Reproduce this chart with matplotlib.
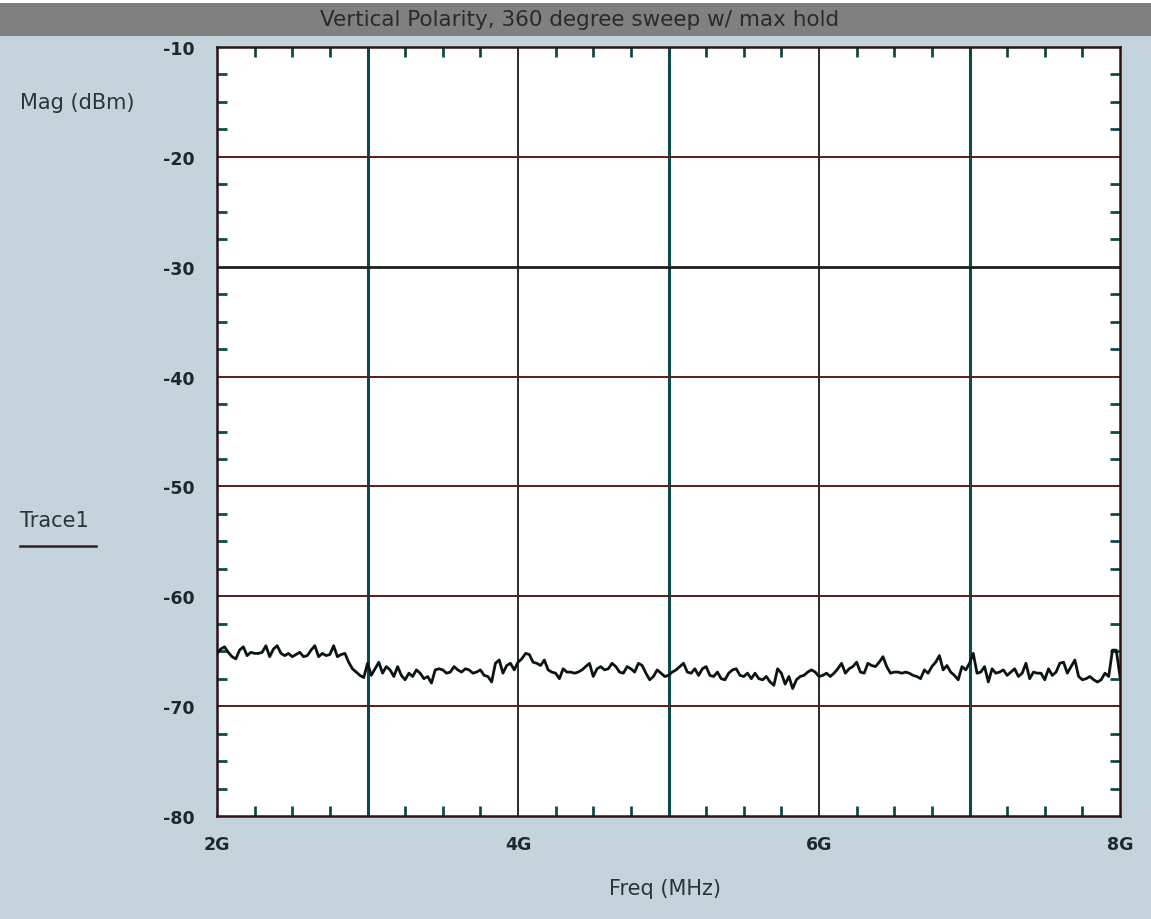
import numpy as np
import matplotlib
matplotlib.use('Agg')
import matplotlib.pyplot as plt
from matplotlib.ticker import MultipleLocator

title = "Vertical Polarity, 360 degree sweep w/ max hold"
y_label = "Mag (dBm)"
x_label = "Freq (MHz)"
trace_name = "Trace1"

freq_start = 2.0
freq_stop = 8.0
y_ticks = [-10, -20, -30, -40, -50, -60, -70, -80]
x_ticks = [2, 4, 6, 8]
x_tick_labels = ["2G", "4G", "6G", "8G"]

# trace, one value every 25 MHz
mag_2000_3475 = [-65.2, -64.8, -64.6, -65.1, -65.5, -65.7, -64.9, -64.6, -65.4, -65.1,
                 -65.2, -65.2, -65.1, -64.5, -65.5, -64.8, -64.5, -65.2, -65.4, -65.2,
                 -65.5, -65.3, -65.1, -65.5, -65.4, -64.9, -64.5, -65.5, -65.2, -65.4,
                 -65.3, -64.5, -65.5, -65.3, -65.2, -66.0, -66.6, -66.9, -67.2, -67.4,
                 -66.1, -67.2, -66.6, -66.0, -67.0, -66.4, -66.7, -67.3, -66.4, -67.2,
                 -67.6, -67.0, -67.3, -66.7, -67.0, -67.5, -67.3, -67.9, -66.7, -66.6]
mag_3500_5000 = [-66.7, -67.0, -66.9, -66.4, -66.7, -66.9, -66.6, -66.7, -67.0, -66.9,
                 -66.7, -67.2, -67.3, -67.8, -66.1, -65.8, -67.0, -66.3, -66.1, -66.7,
                 -66.0, -65.7, -65.2, -65.3, -66.0, -66.1, -66.3, -65.8, -66.7, -66.9,
                 -67.0, -67.5, -66.6, -66.9, -66.9, -67.0, -66.9, -66.7, -66.4, -66.1,
                 -67.3, -66.6, -66.4, -66.7, -66.6, -66.1, -66.4, -66.9, -67.0, -66.4,
                 -66.6, -66.9, -66.1, -66.3, -67.0, -67.6, -67.3, -66.7, -67.0, -67.3,
                 -67.2]
mag_5025_6500 = [-66.9, -66.7, -66.4, -66.1, -66.9, -67.0, -66.6, -67.2, -66.6, -66.4,
                 -67.2, -67.3, -66.9, -67.5, -67.6, -67.0, -66.7, -66.6, -67.2, -67.3,
                 -67.0, -67.5, -67.0, -67.5, -67.6, -67.3, -67.8, -68.1, -66.6, -67.0,
                 -68.0, -67.3, -68.4, -67.6, -67.3, -67.2, -66.9, -66.7, -66.9, -67.3,
                 -67.2, -67.0, -67.3, -67.0, -66.6, -66.1, -67.0, -66.6, -66.4, -66.0,
                 -66.9, -67.0, -66.1, -66.3, -66.4, -66.0, -65.5, -66.4, -67.0, -66.9]
mag_6525_8000 = [-66.9, -67.0, -66.9, -67.0, -67.2, -67.3, -67.5, -66.7, -67.0, -66.4,
                 -66.0, -65.4, -66.7, -66.3, -66.9, -67.2, -67.6, -66.4, -66.7, -66.1,
                 -65.2, -67.0, -66.9, -66.4, -67.8, -66.6, -67.0, -66.9, -66.7, -67.2,
                 -66.9, -66.6, -67.3, -67.0, -66.1, -67.5, -66.9, -67.0, -67.0, -67.6,
                 -66.6, -67.2, -66.9, -66.1, -66.0, -67.0, -66.4, -65.8, -67.3, -67.6,
                 -67.5, -67.3, -67.6, -67.8, -67.6, -67.0, -67.3, -64.9, -64.9, -67.3]

mag = np.array(mag_2000_3475 + mag_3500_5000 + mag_5025_6500 + mag_6525_8000)
freq = np.linspace(freq_start, freq_stop, len(mag))

bg = '#c4d3dc'
teal = '#0d4a4a'
maroon = '#5a1c1c'
txt = '#2a3535'

plt.rcParams['font.family'] = ['DejaVu Sans']
plt.rcParams['axes.unicode_minus'] = False

fig = plt.figure(figsize=(11.51, 9.2), dpi=100, facecolor=bg)
ax = fig.add_axes([217 / 1151, 103 / 920, 903 / 1151, 769 / 920])
ax.set_facecolor('white')

# title bar
fig.patches.append(plt.Rectangle((0, 1 - 37 / 920), 1, 33 / 920, transform=fig.transFigure,
                                 facecolor='#808080', edgecolor='none', zorder=0))
fig.patches.append(plt.Rectangle((0, 1 - 4 / 920), 1, 4 / 920, transform=fig.transFigure,
                                 facecolor='white', edgecolor='none', zorder=0))
fig.text(580 / 1151, 1 - 20 / 920, title, ha='center', va='center', fontsize=15.5, color='#2a2a2a')

ax.set_xlim(freq_start, freq_stop)
ax.set_ylim(-80, -10)

for g in [3, 5, 7]:
    ax.axvline(g, color=teal, lw=2.2, zorder=1)
for g in [4, 6]:
    ax.axvline(g, color='#2a2a2a', lw=1.4, zorder=1)
for g in [-20, -40, -50, -60, -70]:
    ax.axhline(g, color=maroon, lw=1.4, zorder=1)
ax.axhline(-30, color='#1f1f1f', lw=2.0, zorder=1)

ax.plot(freq, mag, color='#0a1414', lw=2, zorder=3)

ax.set_xticks(x_ticks)
ax.set_xticklabels(x_tick_labels)
ax.set_yticks(y_ticks)
ax.xaxis.set_minor_locator(MultipleLocator(0.25))
ax.yaxis.set_minor_locator(MultipleLocator(2.5))
ax.tick_params(which='major', length=0, labelsize=12.5, labelcolor='#1a2a2a')
ax.tick_params(axis='x', which='major', pad=14)
ax.tick_params(axis='y', which='major', pad=16)
ax.tick_params(which='minor', direction='in', length=7, width=2, color=teal,
               top=True, bottom=True, left=True, right=True)
for lab in ax.get_xticklabels() + ax.get_yticklabels():
    lab.set_fontweight('bold')

for s in ax.spines.values():
    s.set_color('#2a1414')
    s.set_linewidth(1.8)

fig.text(20 / 1151, 1 - 103 / 920, y_label, ha='left', va='center', fontsize=15, color=txt)
fig.text(20 / 1151, 1 - 521 / 920, trace_name, ha='left', va='center', fontsize=15, color=txt)
fig.add_artist(plt.Line2D([20 / 1151, 96 / 1151], [1 - 547 / 920, 1 - 547 / 920],
                          color='#3a1a1a', lw=1.8))
fig.text(665 / 1151, 1 - 889 / 920, x_label, ha='center', va='center', fontsize=15, color=txt)

fig.savefig('out.png', dpi=100, facecolor=bg)
